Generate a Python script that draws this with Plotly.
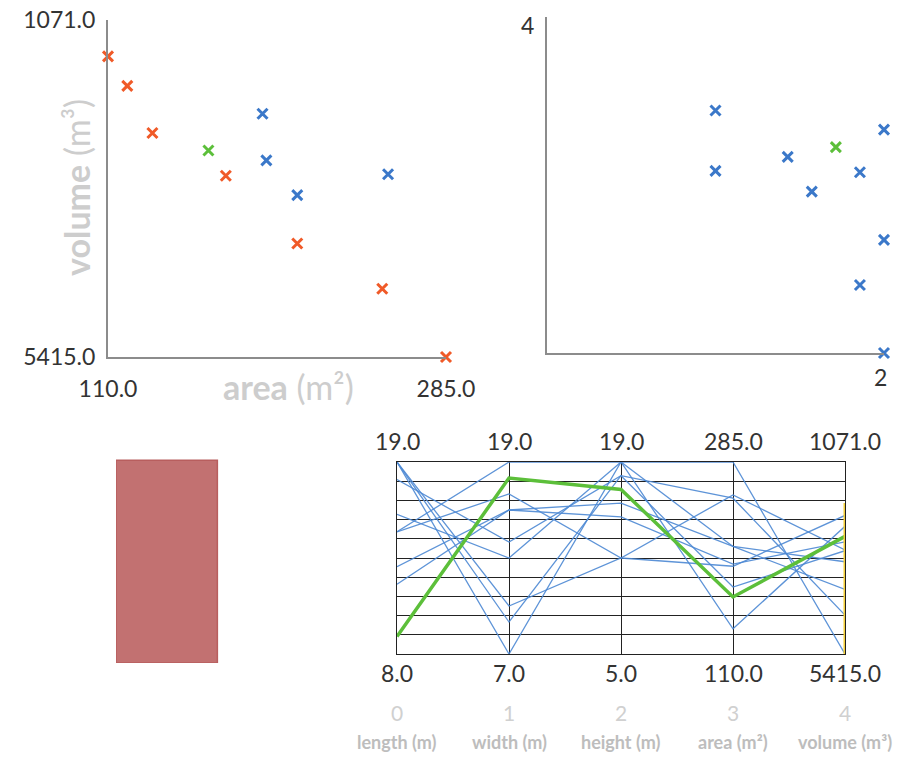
import plotly.graph_objects as go

# ---------------- data ----------------
design_ids = ["D1", "D2", "D3", "D4", "D5", "D6", "D7", "D8", "D9", "D10", "D11", "D12"]
length_m = [10, 10, 19, 19, 16, 18, 15, 19, 12, 13, 15, 9]
width_m = [11, 12, 7, 9, 13, 14, 19, 10, 16, 16, 17, 18]
height_m = [14, 16, 19, 18, 19, 18, 19, 12, 15, 16, 12, 17]
area_m2 = [110, 120, 133, 171, 208, 252, 285, 190, 192, 208, 255, 162]
volume_m3 = [1540, 1920, 2527, 3078, 3952, 4536, 5415, 2280, 2880, 3328, 3060, 2754]
status = ["front", "front", "front", "front", "front", "front", "front",
          "other", "other", "other", "other", "selected"]

dim_index = [0, 1, 2, 3, 4]
dim_names = ["length (m)", "width (m)", "height (m)", "area (m\u00b2)", "volume (m\u00b3)"]
dim_bottom = [8, 7, 5, 110, 5415]
dim_top = [19, 19, 19, 285, 1071]

volume_brush = [5415, 2001]   # selected range on the volume axis
selected = 11

# ---------------- styling ----------------
W, H = 906, 759
OFF = 0  # page body margin is removed below
FONT = "Lato, 'Open Sans', sans-serif"
ORANGE = "#f05a28"
BLUE = "#3b78c9"
GREEN = "#5cbf3a"
LINE_BLUE = "#4d89d4"
DARK = "#333333"
colour_of = {"front": ORANGE, "other": BLUE, "selected": GREEN}


def fx(p):
    return (p - OFF) / W


def fy(p):
    return 1 - (p - OFF) / H


def px_x(a, b):
    return [fx(a), fx(b)]


def px_y(top, bottom):
    return [fy(bottom), fy(top)]


fig = go.Figure()

# ---------- top-left scatter: area vs volume ----------
fig.add_trace(go.Scatter(
    x=area_m2, y=volume_m3, mode="markers", xaxis="x", yaxis="y",
    marker=dict(symbol="x-thin", size=10,
                line=dict(width=3, color=[colour_of[s] for s in status])),
    cliponaxis=False, showlegend=False, hoverinfo="x+y"))

# ---------- top-right scatter: height vs volume (brushed designs) ----------
vis = [i for i, v in enumerate(volume_m3) if min(volume_brush) <= v <= max(volume_brush)]
fig.add_trace(go.Scatter(
    x=[height_m[i] for i in vis], y=[volume_m3[i] for i in vis],
    mode="markers", xaxis="x2", yaxis="y2",
    marker=dict(symbol="x-thin", size=10,
                line=dict(width=3, color=[GREEN if i == selected else BLUE for i in vis])),
    cliponaxis=False, showlegend=False, hoverinfo="x+y"))

# ---------- parallel coordinates (bottom right) ----------
cols = [length_m, width_m, height_m, area_m2, volume_m3]


def norm(d, v):
    return (v - dim_bottom[d]) / (dim_top[d] - dim_bottom[d])


for i in vis:
    if i == selected:
        continue
    fig.add_trace(go.Scatter(
        x=dim_index, y=[norm(d, cols[d][i]) for d in dim_index],
        mode="lines", xaxis="x3", yaxis="y3",
        line=dict(color=LINE_BLUE, width=1.3), opacity=0.9,
        cliponaxis=False, showlegend=False, hoverinfo="skip"))
fig.add_trace(go.Scatter(
    x=dim_index, y=[norm(d, cols[d][selected]) for d in dim_index],
    mode="lines", xaxis="x3", yaxis="y3",
    line=dict(color=GREEN, width=3.5),
    cliponaxis=False, showlegend=False, hoverinfo="skip"))
# brush on volume axis
fig.add_trace(go.Scatter(
    x=[dim_index[4], dim_index[4]], y=[norm(4, b) for b in volume_brush],
    mode="lines", xaxis="x3", yaxis="y3",
    line=dict(color="#f4cf3a", width=3),
    cliponaxis=False, showlegend=False, hoverinfo="skip"))

# ---------- footprint of the selected design ----------
fig.add_shape(type="rect", xref="x4", yref="y4",
              x0=0, y0=0, x1=length_m[selected], y1=width_m[selected],
              fillcolor="#c27171", line=dict(color="#b85e5e", width=1.5))

# ---------- annotations ----------
ann = []
C = dict(xanchor="center", yanchor="middle", showarrow=False)
# left scatter axis titles
ann.append(dict(text="<b>area</b> (m\u00b2)", xref="paper", yref="paper",
                x=fx(288), y=fy(386), **C,
                font=dict(family=FONT, size=34, color="#cdcdcd")))
ann.append(dict(text="<b>volume</b> (m\u00b3)", xref="paper", yref="paper",
                x=fx(76), y=fy(188), textangle=-90, **C,
                font=dict(family=FONT, size=34, color="#cdcdcd")))
# right scatter axis titles (dimension indices)
ann.append(dict(text=str(dim_index[4]), xref="paper", yref="paper",
                x=fx(527), y=fy(25), **C,
                font=dict(family=FONT, size=23, color=DARK)))
ann.append(dict(text=str(dim_index[2]), xref="paper", yref="paper",
                x=fx(880), y=fy(377), **C,
                font=dict(family=FONT, size=23, color=DARK)))
# parallel coordinate labels
for d in dim_index:
    ann.append(dict(text=f"{dim_top[d]:.1f}", xref="x3", yref="y3", x=d, y=1,
                    yshift=21, **C,
                    font=dict(family=FONT, size=23, color=DARK)))
    ann.append(dict(text=f"{dim_bottom[d]:.1f}", xref="x3", yref="y3", x=d, y=0,
                    yshift=-19, **C,
                    font=dict(family=FONT, size=23, color=DARK)))
    ann.append(dict(text=str(d), xref="x3", yref="y3", x=d, y=0,
                    yshift=-58, **C,
                    font=dict(family=FONT, size=21, color="#d0d0d0")))
    ann.append(dict(text=f"<b>{dim_names[d]}</b>", xref="x3", yref="y3", x=d, y=0,
                    yshift=-88, **C,
                    font=dict(family=FONT, size=18, color="#bdbdbd")))

AXLINE = dict(showline=True, linecolor="#8c8c8c", linewidth=2, zeroline=False,
              showgrid=False, ticks="", automargin=False, ticklabeloverflow="allow")
PGRID = dict(showticklabels=False, ticks="", zeroline=False, automargin=False,
             showgrid=True, gridcolor="#222222", gridwidth=1.3, tick0=0,
             showline=True, linecolor="#222222", linewidth=1.3, mirror=True,
             layer="below traces")

fig.update_layout(
    width=W, height=H, margin=dict(l=0, r=0, t=0, b=0, autoexpand=False),
    paper_bgcolor="white", plot_bgcolor="white",
    font=dict(family=FONT, color=DARK),
    showlegend=False,
    annotations=ann,
    xaxis=dict(domain=px_x(108, 446), range=[110, 285], anchor="y",
               tickvals=[110, 285], ticktext=["110.0", "285.0"],
               tickfont=dict(family=FONT, size=23, color=DARK),
               ticklabelstandoff=10, **AXLINE),
    yaxis=dict(domain=px_y(20, 357), range=[5415, 1071], anchor="x",
               tickvals=[1071, 5415], ticktext=["1071.0", "5415.0"],
               tickfont=dict(family=FONT, size=23, color=DARK),
               ticklabelstandoff=6, **AXLINE),
    xaxis2=dict(domain=px_x(547, 884), range=[5, 19], anchor="y2",
                showticklabels=False, **AXLINE),
    yaxis2=dict(domain=px_y(17, 353), range=[5415, 1071], anchor="x2",
                showticklabels=False, **AXLINE),
    xaxis3=dict(domain=px_x(397, 845), range=[0, 4], anchor="y3", dtick=1, **PGRID),
    yaxis3=dict(domain=px_y(462, 654), range=[0, 1], anchor="x3", dtick=0.1, **PGRID),
    xaxis4=dict(domain=px_x(116, 330), range=[0, 19], anchor="y4", visible=False),
    yaxis4=dict(domain=px_y(449, 663), range=[0, 19], anchor="x4", visible=False),
)

fig.write_html("out.html", config={"displayModeBar": False},
               post_script="document.body.style.margin='0px';")
